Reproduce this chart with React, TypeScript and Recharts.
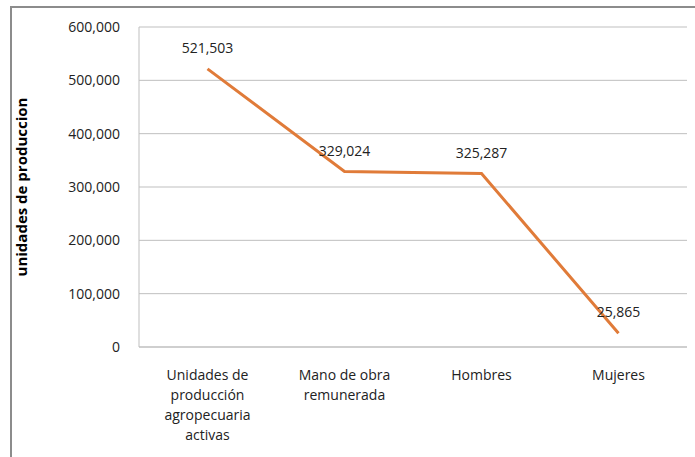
import { LineChart, Line, XAxis, YAxis, CartesianGrid, LabelList } from 'recharts';

const categories = [
  'Unidades de\nproducción\nagropecuaria\nactivas',
  'Mano de obra\nremunerada',
  'Hombres',
  'Mujeres',
];
const unidades = [521503, 329024, 325287, 25865];
const yTicks = [0, 100000, 200000, 300000, 400000, 500000, 600000];
const yTitle = 'unidades de produccion';

const data = categories.map((name, i) => ({ name, value: unidades[i] }));

const FONT = '"Open Sans", sans-serif';
const fmt = (v: number) => Number(v).toLocaleString('en-US');

function CategoryTick(props: any) {
  const { x, y, payload } = props;
  const lines = String(payload.value).split('\n');
  return (
    <g>
      {lines.map((line: string, i: number) => (
        <text
          key={i}
          x={x}
          y={y + 25 + i * 20}
          textAnchor="middle"
          fontFamily={FONT}
          fontSize={14}
          fill="#222"
        >
          {line}
        </text>
      ))}
    </g>
  );
}

export default function App() {
  return (
    <div style={{ position: 'absolute', left: 0, top: 0, width: 695, height: 457, background: '#fff', overflow: 'hidden' }}>
      <div
        style={{
          position: 'absolute',
          left: 10,
          top: 6,
          width: 700,
          height: 470,
          borderLeft: '2px solid #8c8c8c',
          borderTop: '2px solid #8c8c8c',
        }}
      />
      <div style={{ position: 'absolute', left: 0, top: 0 }}>
        <LineChart width={695} height={457} data={data} margin={{ top: 27, right: 8, bottom: 0, left: 0 }}>
          <CartesianGrid vertical={false} stroke="#bfbfbf" />
          <XAxis
            dataKey="name"
            height={110}
            padding={{ left: 68.5, right: 68.5 }}
            axisLine={{ stroke: '#bfbfbf' }}
            tickLine={false}
            tick={<CategoryTick />}
            interval={0}
          />
          <YAxis
            width={139}
            domain={[0, 600000]}
            ticks={yTicks}
            tickFormatter={fmt}
            axisLine={{ stroke: '#bfbfbf' }}
            tickLine={false}
            tickSize={0}
            tickMargin={19}
            tick={{ fontFamily: FONT, fontSize: 14, fill: '#222' }}
            label={{
              content: () => (
                <text
                  x={27}
                  y={187}
                  transform="rotate(-90 27 187)"
                  textAnchor="middle"
                  fontFamily={FONT}
                  fontSize={15}
                  fontWeight="bold"
                  fill="#000"
                >
                  {yTitle}
                </text>
              ),
            }}
          />
          <Line
            type="linear"
            dataKey="value"
            stroke="#e07b39"
            strokeWidth={3}
            dot={false}
            isAnimationActive={false}
          >
            <LabelList
              dataKey="value"
              position="top"
              offset={16}
              formatter={fmt}
              style={{ fontFamily: FONT, fontSize: 14, fill: '#222' }}
            />
          </Line>
        </LineChart>
      </div>
    </div>
  );
}
